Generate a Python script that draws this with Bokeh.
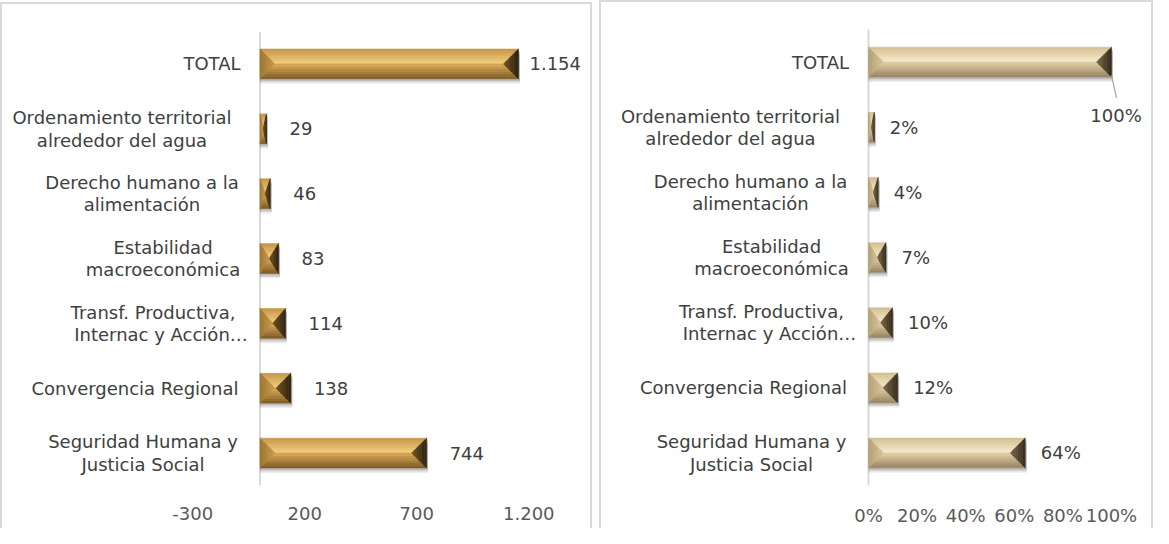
from bokeh.plotting import figure
from bokeh.layouts import row
from bokeh.models import Range1d, FixedTicker, Span, ColumnDataSource
from bokeh.embed import file_html
from bokeh.resources import INLINE
from bokeh.core.properties import value

# ---------------- data ----------------
categories = [
    "TOTAL",
    "Ordenamiento territorial\nalrededor del agua",
    "Derecho humano a la\nalimentación",
    "Estabilidad\nmacroeconómica",
    "Transf. Productiva,\nInternac y Acción…",
    "Convergencia Regional",
    "Seguridad Humana y\nJusticia Social",
]
counts = [1154, 29, 46, 83, 114, 138, 744]
count_labels = ["1.154", "29", "46", "83", "114", "138", "744"]
shares = [1.00, 0.024, 0.040, 0.072, 0.099, 0.120, 0.645]
share_labels = ["100%", "2%", "4%", "7%", "10%", "12%", "64%"]
count_ticks = [-300, 200, 700, 1200]
count_tick_labels = ["-300", "200", "700", "1.200"]
share_ticks = [0, 0.2, 0.4, 0.6, 0.8, 1.0]
share_tick_labels = ["0%", "20%", "40%", "60%", "80%", "100%"]

# ---------------- style ----------------
FONT = "DejaVu Sans"
FS = "18px"
TXT = "#404040"
TICK = "#595959"
GRID = "#d9d9d9"
BW = 2  # border width of each chart box
# per-line horizontal centre of category labels (px left of the value axis)
label_centres = [[48], [138, 138], [118, 118], [97, 97], [107, 99], [125], [117, 117]]
LINE_GAP = 11.3
HALF = 15  # half bar height in px

GOLD = dict(top0="#c39446", top1="#f6cf80", bot0="#7a5822", bot1="#dcab58",
            left0="#9c7431", left1="#c99a4a", right0="#2c210e", right1="#6e5222")
SAND = dict(top0="#d2bd8f", top1="#f8ecce", bot0="#968160", bot1="#e3d1a6",
            left0="#b59f75", left1="#d8c49a", right0="#332a1c", right1="#7a6748")


def mix(c1, c2, t):
    a = [int(c1[i:i + 2], 16) for i in (1, 3, 5)]
    b = [int(c2[i:i + 2], 16) for i in (1, 3, 5)]
    return "#%02x%02x%02x" % tuple(round(a[k] + (b[k] - a[k]) * t) for k in range(3))


def bevel(v, yc, ppx, ppy, pal, n=6):
    xs, ys, cs = [], [], []
    bx = min(HALF, v * ppx / 2) / ppx
    by = HALF / ppy
    x0, x1 = 0.0, v
    yt, yb = yc + by, yc - by
    for k in range(n):
        t0, t1 = k / n, (k + 1) / n
        tm = (k + 0.5) / n
        xs.append([x0 + t0 * bx, x1 - t0 * bx, x1 - t1 * bx, x0 + t1 * bx])
        ys.append([yt - t0 * by, yt - t0 * by, yt - t1 * by, yt - t1 * by])
        cs.append(mix(pal["top0"], pal["top1"], tm))
        xs.append([x0 + t0 * bx, x1 - t0 * bx, x1 - t1 * bx, x0 + t1 * bx])
        ys.append([yb + t0 * by, yb + t0 * by, yb + t1 * by, yb + t1 * by])
        cs.append(mix(pal["bot0"], pal["bot1"], tm))
    for k in range(n):
        t0, t1 = k / n, (k + 1) / n
        tm = (k + 0.5) / n
        xs.append([x0 + t0 * bx, x0 + t1 * bx, x0 + t1 * bx, x0 + t0 * bx])
        ys.append([yt - t0 * by, yt - t1 * by, yb + t1 * by, yb + t0 * by])
        cs.append(mix(pal["left0"], pal["left1"], tm))
        xs.append([x1 - t0 * bx, x1 - t1 * bx, x1 - t1 * bx, x1 - t0 * bx])
        ys.append([yt - t0 * by, yt - t1 * by, yb + t1 * by, yb + t0 * by])
        cs.append(mix(pal["right0"], pal["right1"], tm))
    return xs, ys, cs


def panel(vals, val_labels, ticks, tick_labels, width, height, zero_px, ppx, ft, fh, pal, gaps,
          right_panel, extra_style, standoff):
    xr = (-zero_px / ppx, (width - zero_px) / ppx)
    p = figure(width=width, height=height, x_range=Range1d(*xr),
               y_range=Range1d(-0.5, len(vals) - 0.5), title_location=None,
               output_backend="svg", toolbar_location=None,
               min_border_left=0, min_border_right=0,
               min_border_top=ft, min_border_bottom=height - ft - fh)
    style = {"border-left": f"{BW}px solid {GRID}", "border-top": f"{BW}px solid {GRID}",
             "border-right": f"{BW}px solid {GRID}", "box-sizing": "border-box"}
    style.update(extra_style)
    p.styles = style
    p.outline_line_color = None
    p.xgrid.visible = False
    p.ygrid.visible = False
    p.yaxis.visible = False
    p.background_fill_color = "white"
    p.border_fill_color = "white"

    ax = p.xaxis[0]
    ax.ticker = FixedTicker(ticks=ticks)
    ax.major_label_overrides = {t: l for t, l in zip(ticks, tick_labels)}
    ax.axis_line_color = None
    ax.major_tick_line_color = None
    ax.minor_tick_line_color = None
    ax.major_label_text_font = FONT
    ax.major_label_text_font_size = FS
    ax.major_label_text_color = TICK
    ax.major_label_standoff = standoff

    ppy = fh / len(vals)
    n = len(vals)
    ypos = [n - 1 - i for i in range(n)]

    p.add_layout(Span(location=0, dimension="height", line_color=GRID, line_width=2, level="underlay"))

    # soft shadows under the bars
    for dy, a in ((5, 0.07), (3.5, 0.10), (2, 0.12)):
        p.hbar(y=[y - dy / ppy for y in ypos], left=0, right=[v + 1.5 / ppx for v in vals],
               height=2 * HALF / ppy, fill_color="#000000", fill_alpha=a, line_color=None)

    xs, ys, cs = [], [], []
    for v, y in zip(vals, ypos):
        a, b, c = bevel(v, y, ppx, ppy, pal)
        xs += a
        ys += b
        cs += c
    p.patches(xs=xs, ys=ys, fill_color=cs, line_color=cs, line_width=0.6)

    # category labels (lines centred on each other, block left of the value axis)
    lx, ly, lt, lo = [], [], [], []
    for cat, y, cen in zip(categories, ypos, label_centres):
        lines = cat.split("\n")
        m = len(lines)
        for j, (line, c) in enumerate(zip(lines, cen)):
            off = (j - (m - 1) / 2) * 2 * LINE_GAP
            lx.append(0)
            ly.append(y - off / ppy)
            lt.append(line)
            lo.append(-c)
    src = ColumnDataSource(dict(x=lx, y=ly, t=lt, o=lo))
    p.text(x="x", y="y", text="t", x_offset="o", source=src, text_align="center",
           text_baseline="middle", text_font=value(FONT), text_font_size=value(FS), text_color=TXT)

    # value labels
    keep = [i for i, g in enumerate(gaps) if g is not None]
    vsrc = ColumnDataSource(dict(x=[vals[i] for i in keep], y=[ypos[i] for i in keep],
                                 t=[val_labels[i] for i in keep], o=[gaps[i] for i in keep]))
    p.text(x="x", y="y", text="t", x_offset="o", source=vsrc, text_align="left",
           text_baseline="middle", text_font=value(FONT), text_font_size=value(FS), text_color=TXT)

    if right_panel:
        v0, y0 = vals[0], ypos[0]
        p.segment(x0=[v0], y0=[y0 - 13.5 / ppy], x1=[v0 + 5 / ppx], y1=[y0 - 36 / ppy],
                  line_color="#a6a6a6", line_width=1.2)
        p.text(x=[v0 + 4.5 / ppx], y=[y0 - 54 / ppy], text=[val_labels[0]], text_align="center",
               text_baseline="middle", text_font=value(FONT), text_font_size=value(FS), text_color=TXT)
    return p


p1 = panel(counts, count_labels, count_ticks, count_tick_labels,
           592, 526, 257.5, 0.224, 27, 457, GOLD, [11, 23, 23, 23, 23, 23, 23], False,
           {"margin-top": "2px"}, 15)
p2 = panel(shares, share_labels, share_ticks, share_tick_labels,
           554, 528, 267, 243, 23, 460, SAND, [None, 15.5, 15.5, 15.5, 15.5, 15.5, 15.5], True, {}, 13)

layout = row(p1, p2, spacing=7)
open("out.html", "w").write(file_html(layout, INLINE))
